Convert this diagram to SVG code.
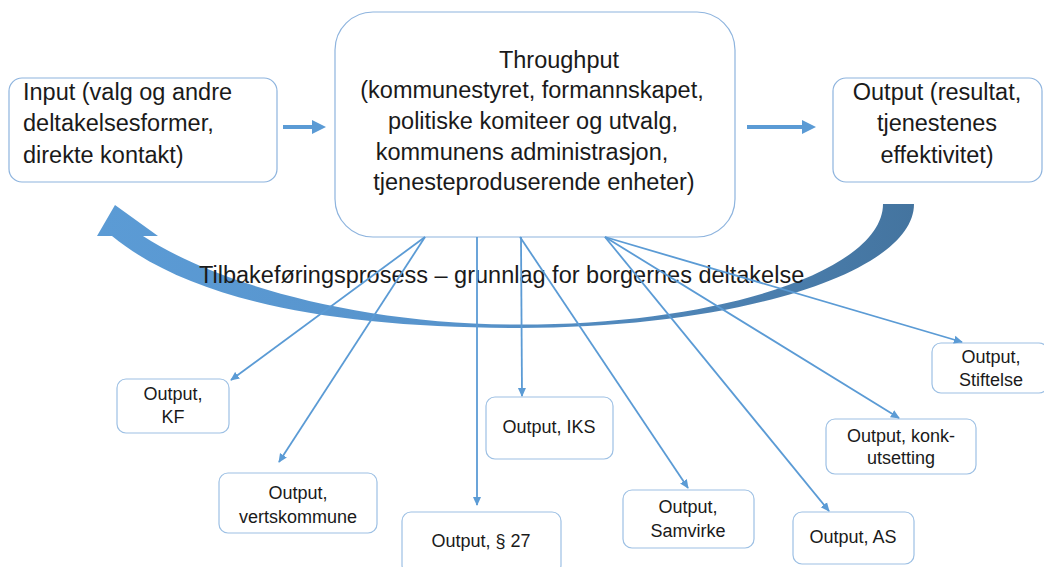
<svg xmlns="http://www.w3.org/2000/svg" width="1044" height="567" viewBox="0 0 1044 567">
<style>
  .big { fill: #ffffff; stroke: #8EB4DE; stroke-width: 1.2; }
  .small { fill: #ffffff; stroke: #9DC0E4; stroke-width: 1.2; }
  .t { font-family: "Liberation Sans", Arial, sans-serif; font-size: 23.5px; fill: #1a1a1a; }
  .ts { font-family: "Liberation Sans", Arial, sans-serif; font-size: 18px; fill: #1a1a1a; text-anchor: middle; }
  .c { text-anchor: middle; }
  .conn { stroke: #5B9BD5; stroke-width: 1.8; fill: none; marker-end: url(#ah); }
  .flow { stroke: #5B9BD5; stroke-width: 4; fill: none; }
</style>
<defs>
  <marker id="ah" viewBox="0 0 10 10" refX="9" refY="5" markerWidth="9" markerHeight="9" markerUnits="userSpaceOnUse" orient="auto">
    <path d="M0,0.5 L10,5 L0,9.5 Z" fill="#5B9BD5"/>
  </marker>
  <linearGradient id="fb" gradientUnits="userSpaceOnUse" x1="100" y1="0" x2="914" y2="0">
    <stop offset="0" stop-color="#5B9BD5"/>
    <stop offset="0.45" stop-color="#5793CB"/>
    <stop offset="1" stop-color="#44749F"/>
  </linearGradient>
</defs>
<rect width="1044" height="567" fill="#ffffff"/>

<g id="feedback-arrow">
  <path fill="url(#fb)" d="M914,204 C914,272.5 737.6,328 520,328 C330,328 190,300 112,236 L97,236 L115,205 L158,236 L143,236 C210,280 350,324.5 520,324.5 C720.5,324.5 883,270.3 883,204 Z"/>
</g>

<g id="feedback-label">
  <text class="t" x="199" y="283">Tilbakeføringsprosess – grunnlag for borgernes deltakelse</text>
</g>

<g id="input">
  <rect class="big" x="9" y="78" width="268" height="104" rx="13"/>
  <text class="t" x="23" y="100">Input (valg og andre</text>
  <text class="t" x="23" y="131">deltakelsesformer,</text>
  <text class="t" x="23" y="163">direkte kontakt)</text>
</g>

<g id="throughput">
  <rect class="big" x="335" y="12" width="400" height="225" rx="38"/>
  <text class="t c" x="559" y="68">Throughput</text>
  <text class="t c" x="532" y="98">(kommunestyret, formannskapet,</text>
  <text class="t c" x="533" y="129">politiske komiteer og utvalg,</text>
  <text class="t c" x="522" y="160">kommunens administrasjon,</text>
  <text class="t c" x="534" y="190">tjenesteproduserende enheter)</text>
</g>

<g id="output">
  <rect class="big" x="833" y="78" width="209" height="104" rx="13"/>
  <text class="t c" x="937" y="100">Output (resultat,</text>
  <text class="t c" x="937" y="131">tjenestenes</text>
  <text class="t c" x="937" y="163">effektivitet)</text>
</g>

<g id="out-kf">
  <rect class="small" x="117" y="379" width="112" height="54" rx="9"/>
  <text class="ts" x="173" y="400">Output,</text>
  <text class="ts" x="173" y="423">KF</text>
</g>
<g id="out-vertskommune">
  <rect class="small" x="219" y="473" width="158" height="60" rx="9"/>
  <text class="ts" x="298" y="499">Output,</text>
  <text class="ts" x="298" y="523">vertskommune</text>
</g>
<g id="out-27">
  <rect class="small" x="402" y="512" width="159" height="62" rx="9"/>
  <text class="ts" x="481" y="547">Output, § 27</text>
</g>
<g id="out-iks">
  <rect class="small" x="486" y="397" width="127" height="62" rx="9"/>
  <text class="ts" x="549" y="433">Output, IKS</text>
</g>
<g id="out-samvirke">
  <rect class="small" x="623" y="490" width="131" height="58" rx="9"/>
  <text class="ts" x="688" y="513">Output,</text>
  <text class="ts" x="688" y="537">Samvirke</text>
</g>
<g id="out-as">
  <rect class="small" x="793" y="512" width="121" height="52" rx="9"/>
  <text class="ts" x="853" y="543">Output, AS</text>
</g>
<g id="out-konk">
  <rect class="small" x="826" y="419" width="150" height="55" rx="9"/>
  <text class="ts" x="901" y="442">Output, konk-</text>
  <text class="ts" x="901" y="464">utsetting</text>
</g>
<g id="out-stiftelse">
  <rect class="small" x="932" y="343" width="116" height="50" rx="9"/>
  <text class="ts" x="991" y="363">Output,</text>
  <text class="ts" x="991" y="386">Stiftelse</text>
</g>

<g id="connectors">
  <line class="flow" x1="283" y1="127" x2="314" y2="127"/>
  <path d="M312,120 L326,127 L312,134 Z" fill="#5B9BD5"/>
  <line class="flow" x1="747" y1="127" x2="804" y2="127"/>
  <path d="M802,120 L816,127 L802,134 Z" fill="#5B9BD5"/>

  <line class="conn" x1="425" y1="237" x2="231" y2="380"/>
  <line class="conn" x1="425" y1="237" x2="279" y2="462"/>
  <line class="conn" x1="477" y1="237" x2="477" y2="505"/>
  <line class="conn" x1="521" y1="237" x2="522" y2="396"/>
  <line class="conn" x1="520" y1="237" x2="688" y2="488"/>
  <line class="conn" x1="605" y1="237" x2="829" y2="511"/>
  <line class="conn" x1="605" y1="237" x2="899" y2="418"/>
  <line class="conn" x1="605" y1="237" x2="962" y2="342"/>
</g>
</svg>
